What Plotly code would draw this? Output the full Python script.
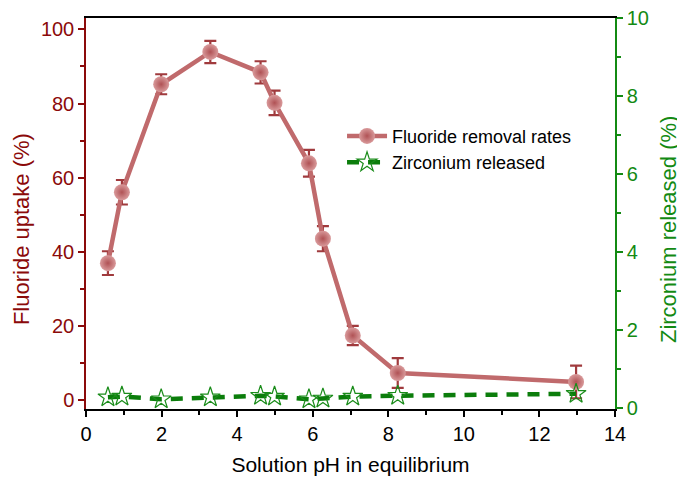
import plotly.graph_objects as go

ph = [0.58, 0.95, 1.99, 3.29, 4.62, 4.99, 5.90, 6.27, 7.06, 8.25, 12.97]
fluoride = [37.0, 56.1, 85.2, 93.9, 88.4, 80.2, 63.9, 43.6, 17.5, 7.4, 5.0]
fluoride_err = [3.2, 3.3, 2.7, 3.0, 3.0, 3.3, 3.6, 3.4, 2.6, 4.0, 4.4]
zirconium = [0.28, 0.30, 0.23, 0.28, 0.32, 0.30, 0.23, 0.25, 0.30, 0.32, 0.37]

red_dark = "#8b0a0a"
green = "#138a13"
font_family = "Liberation Sans, Arial, sans-serif"

fig = go.Figure()
fig.add_trace(go.Scatter(
    x=ph, y=fluoride, name="Fluoride removal rates", mode="lines+markers",
    line=dict(color="#c06a6c", width=4.5),
    marker=dict(size=16, color="#d99a9b", symbol="circle",
                gradient=dict(type="radial", color="#b05255"),
                line=dict(width=0)),
    error_y=dict(type="data", array=fluoride_err, visible=True,
                 color="#a03a3d", thickness=2.2, width=6),
    yaxis="y"))
fig.add_trace(go.Scatter(
    x=ph, y=zirconium, name="Zirconium released", mode="lines+markers",
    line=dict(color="#0b7d0b", width=4.5, dash="12px,9px"),
    marker=dict(size=15, symbol="star-open", color="#1a8c1a",
                line=dict(width=1.2, color="#1a8c1a")),
    yaxis="y2"))

fig.update_layout(
    width=685, height=479,
    margin=dict(l=78, r=78, t=10, b=78, autoexpand=False),
    paper_bgcolor="white", plot_bgcolor="white",
    font=dict(family=font_family, size=18, color="black"),
    showlegend=True,
    legend=dict(x=0.484, y=0.745, xanchor="left", yanchor="top",
                bgcolor="rgba(0,0,0,0)", font=dict(size=18),
                tracegroupgap=0, itemwidth=40),
    xaxis=dict(range=[0, 14], dtick=2, tick0=0, automargin=False,
               showline=True, linecolor="black", linewidth=1.5, mirror=True,
               ticks="outside", ticklen=6, tickwidth=1.5, tickcolor="black",
               minor=dict(dtick=1, ticks="outside", ticklen=4, tickwidth=1.5, tickcolor="black"),
               showgrid=False, zeroline=False,
               tickfont=dict(size=20, color="black"),
               title=dict(text="Solution pH in equilibrium", font=dict(size=21, color="black"), standoff=14)),
    yaxis=dict(range=[-2.3, 103.05], dtick=20, tick0=0, automargin=False,
               showline=True, linecolor=red_dark, linewidth=1.5,
               ticks="outside", ticklen=6, tickwidth=1.5, tickcolor=red_dark,
               minor=dict(dtick=10, ticks="outside", ticklen=4, tickwidth=1.5, tickcolor=red_dark),
               showgrid=False, zeroline=False,
               tickfont=dict(size=20, color=red_dark)),
    yaxis2=dict(range=[-0.02, 10.002], tickvals=[0, 2, 4, 6, 8, 10], overlaying="y", side="right", automargin=False,
                showline=True, linecolor=green, linewidth=1.5,
                ticks="outside", ticklen=6, tickwidth=1.5, tickcolor=green,
                minor=dict(tickvals=[1, 3, 5, 7, 9], ticks="outside", ticklen=4, tickwidth=1.5, tickcolor=green),
                showgrid=False, zeroline=False, ticklabeloverflow="allow",
                tickfont=dict(size=20, color=green)),
    annotations=[
        dict(text="Fluoride uptake (%)", xref="paper", yref="paper", x=-0.123, y=0.46,
             xanchor="center", yanchor="middle", textangle=-90, showarrow=False,
             font=dict(size=22, color=red_dark)),
        dict(text="Zirconium released (%)", xref="paper", yref="paper", x=1.100, y=0.46,
             xanchor="center", yanchor="middle", textangle=-90, showarrow=False,
             font=dict(size=22, color=green)),
    ],
)

fig.write_html("out.html")
